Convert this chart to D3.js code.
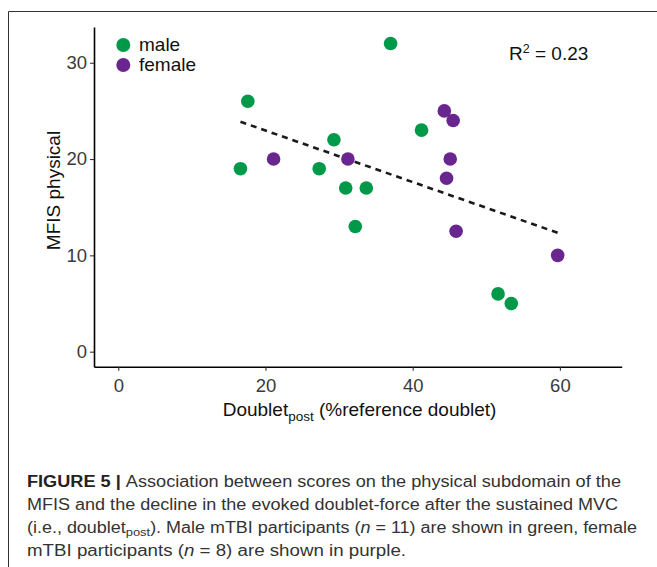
<!DOCTYPE html>
<html>
<head>
<meta charset="utf-8">
<script src="https://cdn.jsdelivr.net/npm/d3@7"></script>
<style>
  html, body { margin: 0; padding: 0; background: #fff; }
  svg { display: block; font-family: "Liberation Sans", Arial, sans-serif; }
</style>
</head>
<body>
<svg id="chart" width="657" height="567"></svg>
<script>
// ---- data ----
const maleX   = [17.6, 16.6, 29.3, 27.3, 30.9, 33.7, 32.2, 37.0, 41.2, 51.6, 53.4];
const maleY   = [26, 19, 22, 19, 17, 17, 13, 32, 23, 6, 5];
const femaleX = [21.1, 31.2, 44.3, 45.5, 45.1, 44.6, 45.9, 59.7];
const femaleY = [20, 20, 25, 24, 20, 18, 12.5, 10];
const xTicks = [0, 20, 40, 60];
const yTicks = [0, 10, 20, 30];
const groups = ["male", "female"];
const groupColors = ["#00994A", "#69268E"];
const r2Label = "0.23";

const svg = d3.select("#chart");

// frame around figure panel
svg.append("path")
  .attr("d", "M8.5,567 L8.5,11.5 L657,11.5")
  .attr("fill", "none").attr("stroke", "#333").attr("stroke-width", 1);

const x = d3.scaleLinear().domain([-3.3, 68.4]).range([94, 621.7]);
const y = d3.scaleLinear().domain([-1.56, 33.71]).range([366.7, 27]);

// axes
const xAxis = svg.append("g").attr("transform", "translate(0,366.7)")
  .call(d3.axisBottom(x).tickValues(xTicks).tickSizeInner(4).tickSizeOuter(0).tickPadding(8).tickFormat(d3.format("d")));
const yAxis = svg.append("g").attr("transform", "translate(94,0)")
  .call(d3.axisLeft(y).tickValues(yTicks).tickSizeInner(4).tickSizeOuter(0).tickPadding(3).tickFormat(d3.format("d")));
[xAxis, yAxis].forEach(a => {
  a.select(".domain").attr("stroke", "#000").attr("stroke-width", 1.6);
  a.selectAll(".tick line").attr("stroke", "#333").attr("stroke-width", 1.1);
  a.selectAll(".tick text").attr("fill", "#3a3a3a")
    .style("font-family", "'Liberation Sans', Arial, sans-serif").style("font-size", "18.5px");
});

// points
const pts = [];
maleX.forEach((v, i) => pts.push({x: v, y: maleY[i], g: 0}));
femaleX.forEach((v, i) => pts.push({x: v, y: femaleY[i], g: 1}));

// linear fit (OLS on all points), drawn over the data range
const mx = d3.mean(pts, d => d.x), my = d3.mean(pts, d => d.y);
const slope = d3.sum(pts, d => (d.x - mx) * (d.y - my)) / d3.sum(pts, d => (d.x - mx) ** 2);
const icpt = my - slope * mx;
const [xmin, xmax] = d3.extent(pts, d => d.x);
svg.append("line")
  .attr("x1", x(xmin)).attr("y1", y(icpt + slope * xmin))
  .attr("x2", x(xmax)).attr("y2", y(icpt + slope * xmax))
  .attr("stroke", "#1a1a1a").attr("stroke-width", 2.6).attr("stroke-dasharray", "6,5");

svg.append("g").selectAll("circle").data(pts).join("circle")
  .attr("cx", d => x(d.x)).attr("cy", d => y(d.y)).attr("r", 6.8)
  .attr("fill", d => groupColors[d.g]);

// legend
const leg = svg.append("g");
groups.forEach((g, i) => {
  leg.append("circle").attr("cx", 123.3).attr("cy", 45 + i * 20).attr("r", 7).attr("fill", groupColors[i]);
  leg.append("text").attr("x", 139).attr("y", 51 + i * 20).attr("font-size", 19).attr("fill", "#111").text(g);
});

// R^2
const r2 = svg.append("text").attr("x", 509).attr("y", 60).attr("font-size", 19).attr("fill", "#111");
r2.append("tspan").text("R");
r2.append("tspan").attr("font-size", 12.5).attr("dy", -7).text("2");
r2.append("tspan").attr("dy", 7).text(" = " + r2Label);

// axis titles
const xl = svg.append("text").attr("x", 222.7).attr("y", 416).attr("font-size", 19).attr("fill", "#111");
xl.append("tspan").text("Doublet");
xl.append("tspan").attr("font-size", 13.5).attr("dy", 5).text("post");
xl.append("tspan").attr("dy", -5).text(" (%reference doublet)");

svg.append("text").attr("transform", "translate(60,190.5) rotate(-90)")
  .attr("text-anchor", "middle").attr("font-size", 19).attr("fill", "#111").text("MFIS physical");

// caption
const cap = svg.append("g").attr("fill", "#333").attr("font-size", 16);
const l1 = cap.append("text").attr("x", 27).attr("y", 486.7).attr("textLength", 594).attr("lengthAdjust", "spacingAndGlyphs");
l1.append("tspan").attr("font-weight", "bold").attr("fill", "#222").text("FIGURE 5 | ");
l1.append("tspan").text("Association between scores on the physical subdomain of the");
cap.append("text").attr("x", 27).attr("y", 509.5).attr("textLength", 591).attr("lengthAdjust", "spacingAndGlyphs")
  .text("MFIS and the decline in the evoked doublet-force after the sustained MVC");
const l3 = cap.append("text").attr("x", 27).attr("y", 532.8).attr("textLength", 610).attr("lengthAdjust", "spacingAndGlyphs");
l3.append("tspan").text("(i.e., doublet");
l3.append("tspan").attr("font-size", 11.5).attr("dy", 3).text("post");
l3.append("tspan").attr("dy", -3).text("). Male mTBI participants (");
l3.append("tspan").attr("font-style", "italic").text("n");
l3.append("tspan").text(" = 11) are shown in green, female");
const l4 = cap.append("text").attr("x", 27).attr("y", 556).attr("textLength", 379).attr("lengthAdjust", "spacingAndGlyphs");
l4.append("tspan").text("mTBI participants (");
l4.append("tspan").attr("font-style", "italic").text("n");
l4.append("tspan").text(" = 8) are shown in purple.");
</script>
</body>
</html>
